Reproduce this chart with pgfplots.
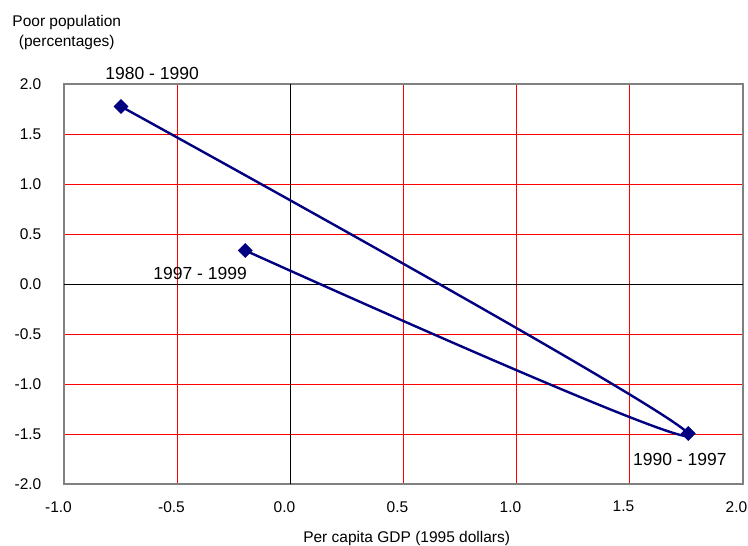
\documentclass[border=0pt]{standalone}
\usepackage{fontspec}
\setmainfont{Liberation Sans}
\usepackage{pgfplots}
\pgfplotsset{compat=1.18}
\definecolor{navy}{HTML}{000080}
\definecolor{gridred}{HTML}{FF0000}
\begin{document}
\begin{tikzpicture}
\begin{axis}[
  scale only axis, width=678pt, height=400pt,
  xmin=-1, xmax=2, ymin=-2, ymax=2,
  xtick={-1,-0.5,0,0.5,1,1.5,2},
  ytick={-2,-1.5,-1,-0.5,0,0.5,1,1.5,2},
  xmajorgrids, ymajorgrids,
  major grid style={draw=gridred, line width=1pt},
  axis line style={draw=gray, line width=2pt},
  major tick length=0pt,
  /pgf/number format/.cd, fixed, fixed zerofill, precision=1, assume math mode=true,
  /pgfplots/.cd,
  tick label style={font=\fontsize{15.5}{18}\selectfont},
  xticklabel style={anchor=north, inner sep=0pt, yshift=-16.5pt, xshift=-6pt},
  yticklabel style={anchor=east, inner sep=0pt, xshift=-23pt},
  clip=false,
]
\draw[black, line width=1pt] (axis cs:0,-2) -- (axis cs:0,2);
\draw[black, line width=1pt] (axis cs:-1,0) -- (axis cs:2,0);
\addplot[navy, line width=2.4pt, smooth, tension=0.72, mark=square*, mark size=5pt,
  mark options={rotate=45, fill=navy, line width=0.5pt}]
  coordinates {(-0.75,1.78) (1.76,-1.49) (-0.20,0.34)};
\node[font=\fontsize{17.5}{20}\selectfont] at (axis cs:-0.612,2.114) {1980 - 1990};
\node[font=\fontsize{17.5}{20}\selectfont] at (axis cs:-0.400,0.108) {1997 - 1999};
\node[font=\fontsize{17.5}{20}\selectfont] at (axis cs:1.723,-1.746) {1990 - 1997};
\node[align=center, inner sep=0pt, font=\fontsize{15.5}{20}\selectfont] at (axis cs:-0.99,2.52) {Poor population\\(percentages)};
\node[inner sep=0pt, font=\fontsize{15.5}{18}\selectfont] at (axis cs:0.514,-2.54) {Per capita GDP (1995 dollars)};
\end{axis}
\pgfresetboundingbox
\path[use as bounding box] (current axis.south west) ++(-64.5pt,-61.5pt) rectangle ++(748pt,546pt);
\end{tikzpicture}
\end{document}
